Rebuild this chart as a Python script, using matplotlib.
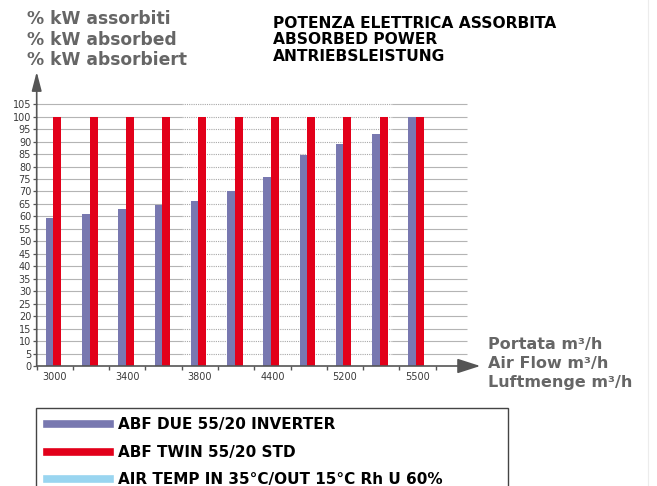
import matplotlib.pyplot as plt
import numpy as np
from matplotlib.lines import Line2D
from matplotlib.patches import Rectangle

# air flow (m3/h), only every other group is labelled in the original
flow = ["3000", "", "3400", "", "3800", "", "4400", "", "5200", "", "5500"]
abf_due = [59.5, 61, 63, 64.5, 66, 70, 76, 84.5, 89, 93, 100]  # % kW, inverter
abf_twin = [100, 100, 100, 100, 100, 100, 100, 100, 100, 100, 100]  # % kW, std
y_ticks = list(range(0, 110, 5))

ylab = ["% kW assorbiti", "% kW absorbed", "% kW absorbiert"]
title = ["POTENZA ELETTRICA ASSORBITA", "ABSORBED POWER", "ANTRIEBSLEISTUNG"]
xlab = ["Portata m\u00b3/h", "Air Flow m\u00b3/h", "Luftmenge m\u00b3/h"]
leg_names = ["ABF DUE 55/20 INVERTER", "ABF TWIN 55/20 STD",
             "AIR TEMP IN 35\u00b0C/OUT 15\u00b0C Rh U 60%"]

blue = '#7878b0'
red = '#e2001a'
light = '#99d5f0'
grey = '#666666'
axcol = '#555555'

W, H = 657, 486


def fx(px):
    return px / W


def fy(py):
    return 1 - py / H


fig = plt.figure(figsize=(W / 100, H / 100), dpi=100)
ax = fig.add_axes([fx(36.7), fy(366), 443.5 / W, 294.2 / H])
ax.set_xlim(-0.5, 11.73)
ax.set_ylim(0, 118)
for s in ax.spines.values():
    s.set_visible(False)

x = np.arange(len(flow))
ax.bar(x - 0.145, abf_due, width=0.21, color=blue, zorder=3)
ax.bar(x + 0.07, abf_twin, width=0.22, color=red, zorder=3)

# grid: solid on the sides, dotted in the middle
for v in y_ticks[1:]:
    ax.hlines(v, -0.5, 3.5, color='#b4b4b4', lw=0.8, zorder=1)
    ax.hlines(v, 3.5, 9.3, color='#a8a8a8', lw=0.8, linestyles=(0, (1, 1)), zorder=1)
    ax.hlines(v, 9.3, 11.37, color='#b4b4b4', lw=0.8, zorder=1)

# axes with arrows
ax.annotate('', xy=(11.73, 0), xytext=(-0.5, 0),
            arrowprops=dict(arrowstyle='-|>,head_length=1.4,head_width=0.45',
                            color=axcol, lw=1.2, shrinkA=0, shrinkB=0, mutation_scale=10),
            annotation_clip=False, zorder=5)
ax.annotate('', xy=(-0.5, 118), xytext=(-0.5, 0),
            arrowprops=dict(arrowstyle='-|>,head_length=1.15,head_width=0.3',
                            color=axcol, lw=1.2, shrinkA=0, shrinkB=0, mutation_scale=10),
            annotation_clip=False, zorder=5)

ax.set_yticks(y_ticks)
ax.tick_params(axis='y', length=3, width=0.9, color=axcol, pad=1,
               labelsize=7, labelcolor='#3a3a3a')
ax.set_xticks(np.arange(-0.5, 11, 1))
ax.set_xticklabels([])
ax.tick_params(axis='x', which='major', length=3, width=1, color=axcol)
lab_pos = [i for i, l in enumerate(flow) if l]
ax.set_xticks(lab_pos, minor=True)
ax.set_xticklabels([flow[i] for i in lab_pos], minor=True)
ax.tick_params(axis='x', which='minor', length=0, pad=4.5, labelsize=7, labelcolor='#3a3a3a')

# header texts
for t, b in zip(ylab, [24, 45, 65]):
    fig.text(fx(27), fy(b), t, fontsize=12.3, fontweight='bold', color=grey,
             family='DejaVu Sans', va='baseline')
for t, b in zip(title, [28.3, 44.3, 60.7]):
    fig.text(fx(273), fy(b), t, fontsize=11.2, fontweight='bold', color='black',
             family='DejaVu Sans', va='baseline')
for t, b in zip(xlab, [349, 367.7, 386.7]):
    fig.text(fx(488), fy(b), t, fontsize=11.5, fontweight='bold', color=grey,
             family='DejaVu Sans', va='baseline')

# legend box
fig.add_artist(Rectangle((fx(36), fy(492)), (508 - 36) / W, (492 - 408) / H,
                         transform=fig.transFigure, fill=False, edgecolor='#444444', lw=1))
for name, c, yc, b in zip(leg_names, [blue, red, light], [424.3, 451.7, 479],
                          [429.3, 456.7, 484.3]):
    fig.add_artist(Line2D([fx(47), fx(110)], [fy(yc), fy(yc)], lw=5.5, color=c,
                          transform=fig.transFigure))
    fig.text(fx(118), fy(b), name, fontsize=11, fontweight='bold', color='black',
             family='DejaVu Sans', va='baseline')

fig.add_artist(Line2D([fx(648), fx(648)], [0, 1], lw=0.8, color='#ececec',
                      transform=fig.transFigure))

fig.savefig('out.png', dpi=100)
